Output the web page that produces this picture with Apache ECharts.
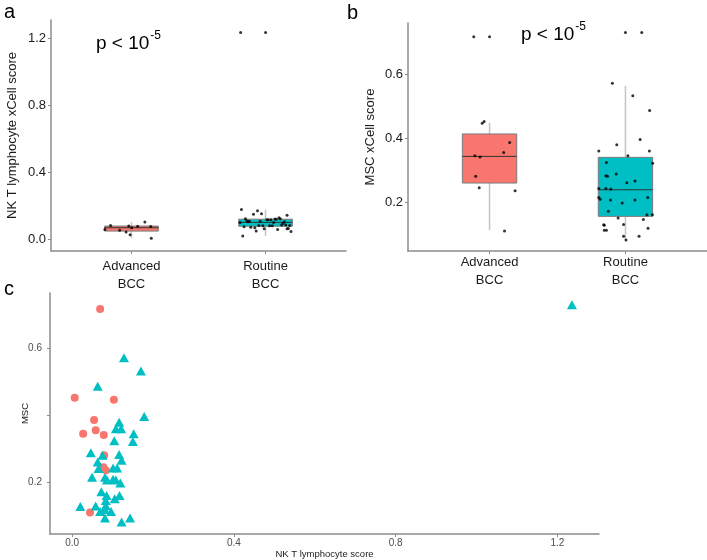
<!DOCTYPE html>
<html>
<head>
<meta charset="utf-8">
<script src="https://cdn.jsdelivr.net/npm/echarts@6/dist/echarts.min.js"></script>
<style>html,body{margin:0;padding:0;background:#fff}#c{width:707px;height:560px}</style>
</head>
<body>
<div id="c"></div>
<script>
// ---- data ----
const groupLabels = ['Advanced\nBCC', 'Routine\nBCC'];
// Advanced BCC samples (NK T score, MSC score)
const advNK  = [0.069, 0.006, 0.103, 0.054, 0.027, 0.058, 0.078, 0.079, 0.077, 0.083, 0.044];
const advMSC = [0.717, 0.453, 0.447, 0.387, 0.346, 0.356, 0.342, 0.282, 0.246, 0.237, 0.111];
// Routine BCC samples
const rouNK  = [0.128,0.170,0.063,0.178,0.116,0.108,0.121,0.152,0.104,0.150,0.046,0.116,0.075,0.122,0.063,0.101,0.111,0.065,0.049,0.081,0.101,0.086,0.108,0.119,0.072,0.085,0.117,0.105,0.083,0.083,0.058,0.020,0.081,0.069,0.096,0.081,0.143,0.122,1.236];
const rouMSC = [0.572,0.533,0.487,0.397,0.380,0.361,0.361,0.346,0.325,0.323,0.289,0.284,0.282,0.267,0.262,0.244,0.244,0.242,0.216,0.216,0.210,0.208,0.208,0.199,0.173,0.162,0.162,0.152,0.147,0.132,0.131,0.129,0.120,0.114,0.114,0.095,0.095,0.083,0.730];
// horizontal jitter (fraction of half box width)
const jitA_adv = [0.01,0.74,0.5,-0.44,-0.05,-0.99,0.23,-0.1,0.72,-0.78,-0.2];
const jitA_rou = [0.5,-0.3,0.8,-0.9,0.1,-0.6,0.35,-0.15,0.7,-0.45,0.95,0.2,-0.8,0.55,-0.05,0.3,-0.7,0.85,-0.35,0.15,-0.95,0.6,-0.2,0.4,-0.55,0.75,0.05,-0.65,0.9,-0.25,0.45,-0.85,0.25,-0.4,0.65,-0.1,0.8,-0.75,-0.93];
const jitB_adv = [-0.58,-0.2,-0.27,0.74,-0.54,0.52,-0.35,-0.51,-0.38,0.94,0.55];
const jitB_rou = [-0.48,0.27,0.89,0.54,-0.32,0.88,-0.98,0.09,-0.7,1.0,-0.34,-0.72,-0.66,0.35,0.05,-0.98,-0.72,-0.54,-0.98,0.82,-0.93,-0.55,0.35,-0.12,-0.63,0.79,0.99,-0.27,0.66,-0.07,-0.8,-0.78,0.83,-0.7,-0.78,-0.07,0.5,0.02,0.6];
// box statistics [min, Q1, median, Q3, max]
const boxNK  = [[0.006,0.049,0.069,0.079,0.103],[0.020,0.078,0.101,0.120,0.178]];
const outNK  = [[], [1.236]];
const boxMSC = [[0.114,0.261,0.344,0.414,0.449],[0.083,0.157,0.240,0.341,0.564]];
const outMSC = [[0.717],[0.730]];
// ticks
const ticksA  = [0, 0.4, 0.8, 1.2];
const ticksB  = [0.2, 0.4, 0.6];
const ticksCx = [0, 0.4, 0.8, 1.2];
const ticksCy = [0.2, 0.4, 0.6];
const labelsCy = [0.2, 0.6];   // the 0.4 label is covered by the axis title in the figure
const pText = 'p < 10', pSup = '-5';

// ---- styling ----
const RED = '#F8766D', TEAL = '#00BFC4';
const FILLS = [RED, TEAL];
const AX = '#8c8c8c';
const FONT = 'Liberation Sans, Arial, sans-serif';
const HALF = 0.2;

function renderBox(params, api) {
  const cat = api.value(0);
  const lo = api.coord([cat, api.value(1)]);
  const q1 = api.coord([cat, api.value(2)]);
  const md = api.coord([cat, api.value(3)]);
  const q3 = api.coord([cat, api.value(4)]);
  const hi = api.coord([cat, api.value(5)]);
  const hw = api.size([HALF, 0])[0];
  const x = lo[0];
  return {
    type: 'group',
    children: [
      {type:'line', shape:{x1:x, y1:hi[1], x2:x, y2:q3[1]}, style:{stroke:'#c4c4c4', lineWidth:1.5}},
      {type:'line', shape:{x1:x, y1:q1[1], x2:x, y2:lo[1]}, style:{stroke:'#c4c4c4', lineWidth:1.5}},
      {type:'rect', shape:{x:x-hw, y:q3[1], width:2*hw, height:q1[1]-q3[1]}, style:{fill:FILLS[params.dataIndex], stroke:'#7a7a7a', lineWidth:1}},
      {type:'line', shape:{x1:x-hw, y1:md[1], x2:x+hw, y2:md[1]}, style:{stroke:'#333', lineWidth:1}}
    ]
  };
}

function xCatAxis(grid, marginLbl) {
  return {
    gridIndex: grid, type: 'value', min: 0.4, max: 2.6,
    axisLine: {show:true, onZero:false, lineStyle:{color:AX, width:1.5}},
    axisTick: {show:true, customValues:[1,2], length:3, lineStyle:{color:AX}},
    axisLabel: {customValues:[1,2], formatter: v => groupLabels[Math.round(v)-1], color:'#1a1a1a', fontSize:13, lineHeight:18, fontFamily:FONT, margin:marginLbl},
    splitLine: {show:false}
  };
}
function yValAxis(grid, min, max, ticks, labels, name, gap, fs, lfs, lcol, margin) {
  return {
    gridIndex: grid, type: 'value', min: min, max: max,
    name: name, nameLocation: 'middle', nameGap: gap, nameMoveOverlap: false,
    nameTextStyle: {fontSize: fs, color:'#1a1a1a', fontFamily:FONT},
    axisLine: {show:true, onZero:false, lineStyle:{color:AX, width:1.5}},
    axisTick: {show:true, customValues:ticks, length:3, lineStyle:{color:AX}},
    axisLabel: {customValues:labels, formatter: v => v.toFixed(1), fontSize:lfs, color:lcol, fontFamily:FONT, margin:margin},
    splitLine: {show:false}
  };
}

const jitterPts = (cat, xs, offs) => xs.map((v,i) => [cat + offs[i]*HALF, v]);
const outPts = (outs) => outs.flatMap((arr, i) => arr.map(v => [i+1, v]));

const dotStyle = {type:'scatter', symbol:'circle', symbolSize:3, itemStyle:{color:'#000'}, silent:true, z:5};

// measure text widths for superscript placement
const mctx = document.createElement('canvas').getContext('2d');
mctx.font = '19px ' + FONT;
const pW = mctx.measureText(pText).width;

function pGraphic(x, y) {
  return [
    {type:'text', left:x, top:y, style:{text:pText, font:'19px ' + FONT, fill:'#000'}},
    {type:'text', left:x + pW + 1, top:y - 4, style:{text:pSup, font:'12px ' + FONT, fill:'#000'}}
  ];
}

const chart = echarts.init(document.getElementById('c'), null, {renderer:'canvas'});
chart.setOption({
  animation: false,
  backgroundColor: '#fff',
  grid: [
    {left:51, top:20, width:295, height:231},
    {left:408, top:23, width:299, height:228},
    {left:50, top:293, width:549, height:243}
  ],
  xAxis: [
    xCatAxis(0, 6),
    xCatAxis(1, 2),
    {
      gridIndex: 2, type:'value', min:-0.055, max:1.303,
      name:'NK T lymphocyte score', nameLocation:'middle', nameGap:12,
      nameTextStyle:{fontSize:9.5, color:'#1a1a1a', fontFamily:FONT},
      axisLine:{show:true, onZero:false, lineStyle:{color:AX, width:1.5}},
      axisTick:{show:true, customValues:ticksCx, length:3, lineStyle:{color:AX}},
      axisLabel:{customValues:ticksCx, formatter: v => v.toFixed(1), fontSize:10, color:'#4d4d4d', fontFamily:FONT, margin:4},
      splitLine:{show:false}
    }
  ],
  yAxis: [
    yValAxis(0, -0.07, 1.31, ticksA, ticksA, 'NK T lymphocyte xCell score', 32, 13, 13, '#1a1a1a', 5),
    yValAxis(1, 0.049, 0.76, ticksB, ticksB, 'MSC xCell score', 31, 13, 13, '#1a1a1a', 5),
    yValAxis(2, 0.047, 0.765, ticksCy, labelsCy, 'MSC', 20, 9.5, 10, '#4d4d4d', 8)
  ],
  series: [
    {type:'custom', xAxisIndex:0, yAxisIndex:0, renderItem:renderBox, data: boxNK.map((b,i)=>[i+1, ...b]), silent:true, z:2},
    Object.assign({}, dotStyle, {xAxisIndex:0, yAxisIndex:0, data: outPts(outNK)}),
    Object.assign({}, dotStyle, {xAxisIndex:0, yAxisIndex:0, data: jitterPts(1, advNK, jitA_adv).concat(jitterPts(2, rouNK, jitA_rou))}),
    {type:'custom', xAxisIndex:1, yAxisIndex:1, renderItem:renderBox, data: boxMSC.map((b,i)=>[i+1, ...b]), silent:true, z:2},
    Object.assign({}, dotStyle, {xAxisIndex:1, yAxisIndex:1, data: outPts(outMSC)}),
    Object.assign({}, dotStyle, {xAxisIndex:1, yAxisIndex:1, data: jitterPts(1, advMSC, jitB_adv).concat(jitterPts(2, rouMSC, jitB_rou))}),
    {type:'scatter', xAxisIndex:2, yAxisIndex:2, symbol:'circle', symbolSize:8, itemStyle:{color:RED, opacity:1}, data: advNK.map((v,i)=>[v, advMSC[i]]), silent:true},
    {type:'scatter', xAxisIndex:2, yAxisIndex:2, symbol:'triangle', symbolSize:[10,9], itemStyle:{color:TEAL, opacity:1}, data: rouNK.map((v,i)=>[v, rouMSC[i]]), silent:true}
  ],
  graphic: [
    {type:'text', left:4, top:2, style:{text:'a', font:'20px ' + FONT, fill:'#000'}},
    {type:'text', left:347, top:3, style:{text:'b', font:'20px ' + FONT, fill:'#000'}},
    {type:'text', left:4, top:279, style:{text:'c', font:'20px ' + FONT, fill:'#000'}},
    ...pGraphic(96, 34),
    ...pGraphic(521, 25)
  ]
});
</script>
</body>
</html>
